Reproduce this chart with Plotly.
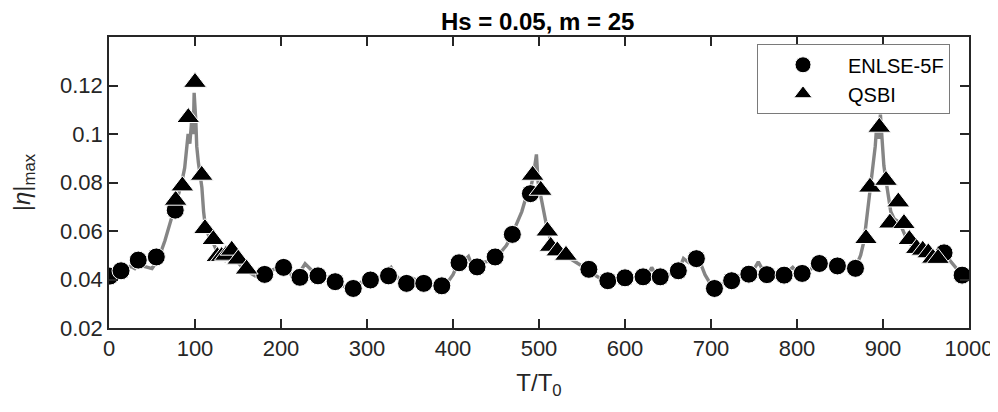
import plotly.graph_objects as go

# ENLSE-5F (circles)
circ_x = [1, 14, 34, 55, 77, 181, 203, 222, 243, 263, 284, 304, 325, 346, 366, 387,
          407, 428, 449, 469, 490, 558, 580, 600, 621, 641, 662, 683, 704, 724, 744,
          765, 785, 806, 826, 847, 868, 971, 992]
circ_y = [0.0414, 0.0436, 0.0480, 0.0493, 0.0686, 0.0421, 0.0450, 0.0409, 0.0415,
          0.0391, 0.0363, 0.0398, 0.0415, 0.0384, 0.0384, 0.0374, 0.0469, 0.0452,
          0.0493, 0.0586, 0.0754, 0.0442, 0.0395, 0.0407, 0.0411, 0.0411, 0.0436,
          0.0486, 0.0363, 0.0395, 0.0422, 0.0420, 0.0418, 0.0425, 0.0466, 0.0456,
          0.0446, 0.0510, 0.0418]

# QSBI (triangles)
tri_x = [77.5, 85.3, 92.2, 100, 107.8, 111.6, 121.3, 126, 131, 136, 142.7, 150.3, 160,
         492.6, 502, 509.7, 513.6, 521.3, 531.4,
         880.2, 884.9, 895.7, 903.5, 908, 917.8, 924.4, 930.6, 939.2, 946.2, 952.7,
         958, 964]
tri_y = [0.0727, 0.0786, 0.1068, 0.1213, 0.0830, 0.0610, 0.0565, 0.0495, 0.0495,
         0.0500, 0.0521, 0.0484, 0.0443,
         0.0830, 0.0768, 0.0600, 0.0537, 0.0518, 0.0500,
         0.0569, 0.0781, 0.1028, 0.0809, 0.0633, 0.0720, 0.0631, 0.0565, 0.0528,
         0.0521, 0.0510, 0.0488, 0.0487]

# continuous (gray) curve
line_x = [0, 5, 10, 15, 20, 25, 30, 35, 40, 45, 50, 55, 60, 65, 70, 75, 80, 84, 88, 90,
          92, 94, 96, 98, 99, 101, 102, 104, 106, 108, 110, 112, 116, 120, 125, 130,
          135, 140, 145, 150, 155, 160, 165, 170, 175, 180, 190, 200, 210, 215, 220,
          228, 235, 245, 255, 265, 275, 285, 290, 295, 305, 315, 322, 328, 333, 340,
          350, 356, 365, 375, 385, 390, 395, 400, 405, 412, 418, 422, 428, 435, 440,
          448, 455, 462, 468, 475, 480, 485, 490, 494, 497, 499, 501, 504, 507, 510,
          515, 520, 530, 540, 548, 555, 562, 570, 578, 585, 592, 600, 607, 613, 620,
          627, 631, 636, 642, 650, 658, 665, 668, 674, 683, 688, 693, 698, 704, 710,
          718, 724, 732, 740, 748, 755, 760, 768, 778, 785, 795, 800, 808, 815, 822,
          830, 838, 847, 855, 862, 868, 874, 878, 882, 885, 888, 891, 893, 895, 897,
          899, 901, 903, 906, 909, 913, 917, 921, 926, 931, 936, 942, 948, 955, 962,
          968, 975, 982, 988, 994, 1000]
line_y = [0.0410, 0.0418, 0.0430, 0.0435, 0.0440, 0.0455, 0.0445, 0.0470, 0.0455,
          0.0450, 0.0445, 0.0470, 0.0510, 0.0560, 0.0620, 0.0680, 0.0730, 0.0790,
          0.0860, 0.0950, 0.1000, 0.0960, 0.1050, 0.1000, 0.1170, 0.1050, 0.0950,
          0.0880, 0.0820, 0.0780, 0.0680, 0.0620, 0.0580, 0.0560, 0.0520, 0.0500,
          0.0480, 0.0500, 0.0500, 0.0470, 0.0450, 0.0440, 0.0425, 0.0415, 0.0420,
          0.0425, 0.0440, 0.0450, 0.0430, 0.0400, 0.0420, 0.0465, 0.0440, 0.0410,
          0.0400, 0.0385, 0.0370, 0.0362, 0.0375, 0.0395, 0.0400, 0.0410, 0.0430,
          0.0450, 0.0420, 0.0390, 0.0410, 0.0400, 0.0385, 0.0380, 0.0375, 0.0370,
          0.0395, 0.0420, 0.0460, 0.0475, 0.0495, 0.0460, 0.0450, 0.0470, 0.0475,
          0.0490, 0.0510, 0.0540, 0.0580, 0.0640, 0.0680, 0.0740, 0.0770, 0.0840,
          0.0916, 0.0800, 0.0760, 0.0700, 0.0640, 0.0600, 0.0550, 0.0525, 0.0500,
          0.0480, 0.0460, 0.0440, 0.0425, 0.0405, 0.0390, 0.0395, 0.0405, 0.0410,
          0.0420, 0.0405, 0.0410, 0.0420, 0.0450, 0.0420, 0.0410, 0.0420, 0.0430,
          0.0460, 0.0487, 0.0470, 0.0485, 0.0465, 0.0420, 0.0390, 0.0365, 0.0375,
          0.0390, 0.0400, 0.0410, 0.0420, 0.0430, 0.0473, 0.0440, 0.0420, 0.0415,
          0.0420, 0.0450, 0.0430, 0.0425, 0.0440, 0.0460, 0.0465, 0.0460, 0.0455,
          0.0450, 0.0445, 0.0448, 0.0500, 0.0560, 0.0680, 0.0780, 0.0880, 0.0950,
          0.1050, 0.0980, 0.1080, 0.0950, 0.0870, 0.0820, 0.0740, 0.0680, 0.0650,
          0.0640, 0.0620, 0.0580, 0.0550, 0.0530, 0.0510, 0.0500, 0.0490, 0.0495,
          0.0505, 0.0490, 0.0460, 0.0435, 0.0418, 0.0410]

x_ticks = [0, 100, 200, 300, 400, 500, 600, 700, 800, 900, 1000]
y_ticks = [0.02, 0.04, 0.06, 0.08, 0.10, 0.12]
y_labels = ["0.02", "0.04", "0.06", "0.08", "0.1", "0.12"]

FONT = "Liberation Sans, Arial, Helvetica, sans-serif"
AX = "#262626"

fig = go.Figure()
fig.add_trace(go.Scatter(x=line_x, y=line_y, mode="lines",
                         line=dict(color="#858585", width=3.4),
                         showlegend=False, hoverinfo="skip"))
fig.add_trace(go.Scatter(x=circ_x, y=circ_y, mode="markers", name="ENLSE-5F",
                         marker=dict(symbol="circle", size=18, color="black",
                                     line=dict(color="white", width=1))))
fig.add_trace(go.Scatter(x=tri_x, y=tri_y, mode="markers", name="QSBI",
                         marker=dict(symbol="triangle-up", size=20, color="black",
                                     line=dict(color="white", width=1))))

axis_common = dict(showline=True, linecolor=AX, linewidth=1.5, mirror="ticks",
                   ticks="inside", ticklen=9, tickwidth=1.5, tickcolor=AX,
                   showgrid=False, zeroline=False, automargin=False,
                   tickfont=dict(family=FONT, size=22, color=AX))

fig.update_xaxes(range=[0, 1000], tickvals=x_ticks, **axis_common,
                 title=dict(text="T/T<sub>0</sub>", standoff=14,
                            font=dict(family=FONT, size=24, color=AX)))
fig.update_yaxes(range=[0.02, 0.14], tickvals=y_ticks, ticktext=y_labels, **axis_common,
                 title=dict(text="|<i>η</i>|<sub>max</sub>", standoff=26,
                            font=dict(family=FONT, size=24, color=AX)))

# page body adds an 8px offset; figure sized so the plot area lands where the reference has it
fig.update_layout(
    width=990, height=404,
    margin=dict(l=101, r=29, t=29, b=84),
    plot_bgcolor="white", paper_bgcolor="white",
    title=dict(text="<b>Hs = 0.05, m = 25</b>", x=0.535, xanchor="center",
               y=0.966, yanchor="middle", automargin=False,
               font=dict(family=FONT, size=24, color="black")),
    legend=dict(x=0.7535, y=0.975, xanchor="left", yanchor="top",
                bgcolor="white", bordercolor="#7a7a7a", borderwidth=1,
                font=dict(family=FONT, size=20, color="black"),
                itemwidth=80, tracegroupgap=0),
)

fig.write_html("out.html")
